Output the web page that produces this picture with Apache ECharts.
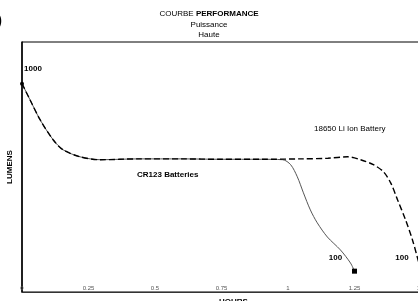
<!DOCTYPE html>
<html>
<head>
<meta charset="utf-8">
<script src="https://cdn.jsdelivr.net/npm/echarts@6/dist/echarts.min.js"></script>
<style>
  html, body { margin: 0; padding: 0; background: #fff; }
  #chart { width: 418px; height: 301px; }
</style>
</head>
<body>
<div id="chart"></div>
<script>
// hours axis ticks
const hourTicks = [0, 0.25, 0.5, 0.75, 1, 1.25, 1.5]

// CR123 Batteries (solid thin line)
const cr123Hours = [0, 0.03, 0.068, 0.117, 0.154, 0.218, 0.294, 0.44, 0.6, 0.75, 0.9, 0.98, 1.01, 1.035, 1.058, 1.084, 1.11, 1.148, 1.197, 1.235, 1.25]
const cr123Lumens = [1000, 923, 827, 731, 683, 649, 635, 639, 639, 637, 637, 635, 611, 553, 476, 394, 332, 264, 202, 139, 100]

// 18650 Li Ion Battery (dashed line)
const liionHours = [0, 0.03, 0.068, 0.117, 0.154, 0.218, 0.294, 0.44, 0.6, 0.75, 0.9, 1.05, 1.15, 1.224, 1.273, 1.321, 1.359, 1.386, 1.412, 1.442, 1.468, 1.487, 1.5]
const liionLumens = [1000, 923, 827, 731, 683, 649, 635, 639, 639, 637, 637, 639, 642, 649, 635, 611, 577, 524, 442, 346, 250, 163, 100]

const FONT = '"Liberation Sans", Arial, sans-serif'

const endLabel = {
  show: true,
  position: 'top',
  offset: [-19, -2],
  fontFamily: FONT,
  fontSize: 8,
  fontWeight: 'bold',
  color: '#000',
  formatter: p => p.value[1]
}

const toData = (xs, ys, opts) => xs.map((x, i) => {
  const item = { value: [x, ys[i]] }
  if (opts[i]) Object.assign(item, opts[i])
  return item
})

const cr123Data = toData(cr123Hours, cr123Lumens, {
  [cr123Hours.length - 1]: {
    symbol: 'rect', symbolSize: 5,
    label: endLabel
  }
})

const liionData = toData(liionHours, liionLumens, {
  0: {
    symbol: 'circle', symbolSize: 4,
    label: {
      show: true, position: 'top', offset: [11, -4],
      fontFamily: FONT, fontSize: 8, fontWeight: 'bold', color: '#000',
      formatter: p => p.value[1]
    }
  },
  [liionHours.length - 1]: {
    symbol: 'rect', symbolSize: 5,
    label: endLabel
  }
})

const chart = echarts.init(document.getElementById('chart'))

chart.setOption({
  animation: false,
  backgroundColor: '#fff',
  title: {
    text: '{n|COURBE }{b|PERFORMANCE}\n{n|Puissance}\n{n|Haute}',
    left: 'center',
    top: 9,
    padding: 0,
    textStyle: {
      fontWeight: 'normal',
      fontSize: 8,
      rich: {
        n: { fontFamily: FONT, fontSize: 8, fontWeight: 'normal', color: '#000', lineHeight: 10.5 },
        b: { fontFamily: FONT, fontSize: 8, fontWeight: 'bold', color: '#000', lineHeight: 10.5 }
      }
    }
  },
  graphic: [
    { type: 'text', left: -3, top: 13, style: { text: ')', font: 'bold 15px ' + FONT, fill: '#000' } },
    { type: 'text', left: 137, top: 171, style: { text: 'CR123 Batteries', font: 'bold 8px ' + FONT, fill: '#000' } },
    { type: 'text', left: 314, top: 125, style: { text: '18650 Li Ion Battery', font: '8px ' + FONT, fill: '#000' } }
  ],
  grid: {
    left: 22, top: 42, right: -3, bottom: 9,
    containLabel: false,
    outerBoundsMode: 'none',
    show: true, borderColor: '#000', borderWidth: 1
  },
  xAxis: {
    type: 'value',
    min: hourTicks[0],
    max: hourTicks[hourTicks.length - 1],
    interval: 0.25,
    name: 'HOURS',
    nameLocation: 'middle',
    nameGap: 1,
    nameTextStyle: { fontFamily: FONT, fontSize: 8, fontWeight: 'bold', color: '#000', padding: [0, 0, 0, 24] },
    axisLine: { lineStyle: { color: '#333', width: 1 } },
    axisTick: { show: false },
    splitLine: { show: false },
    axisLabel: {
      inside: true,
      margin: 1,
      fontFamily: FONT,
      fontSize: 6,
      color: '#555',
      formatter: v => String(v)
    }
  },
  yAxis: {
    type: 'value',
    min: 0,
    max: 1200,
    name: 'LUMENS',
    nameLocation: 'middle',
    nameGap: 8,
    nameTextStyle: { fontFamily: FONT, fontSize: 8, fontWeight: 'bold', color: '#000' },
    axisLine: { show: true, lineStyle: { color: '#000', width: 1.5 } },
    axisTick: { show: false },
    axisLabel: { show: false },
    splitLine: { show: false }
  },
  series: [
    {
      name: 'CR123 Batteries',
      type: 'line',
      smooth: 0.3,
      data: cr123Data,
      symbol: 'none',
      lineStyle: { color: '#555', width: 1 },
      itemStyle: { color: '#000' },
      z: 2
    },
    {
      name: '18650 Li Ion Battery',
      type: 'line',
      smooth: 0.3,
      data: liionData,
      symbol: 'none',
      lineStyle: { color: '#000', width: 1.4, type: [6, 3] },
      itemStyle: { color: '#000' },
      z: 3
    }
  ]
})
</script>
</body>
</html>
